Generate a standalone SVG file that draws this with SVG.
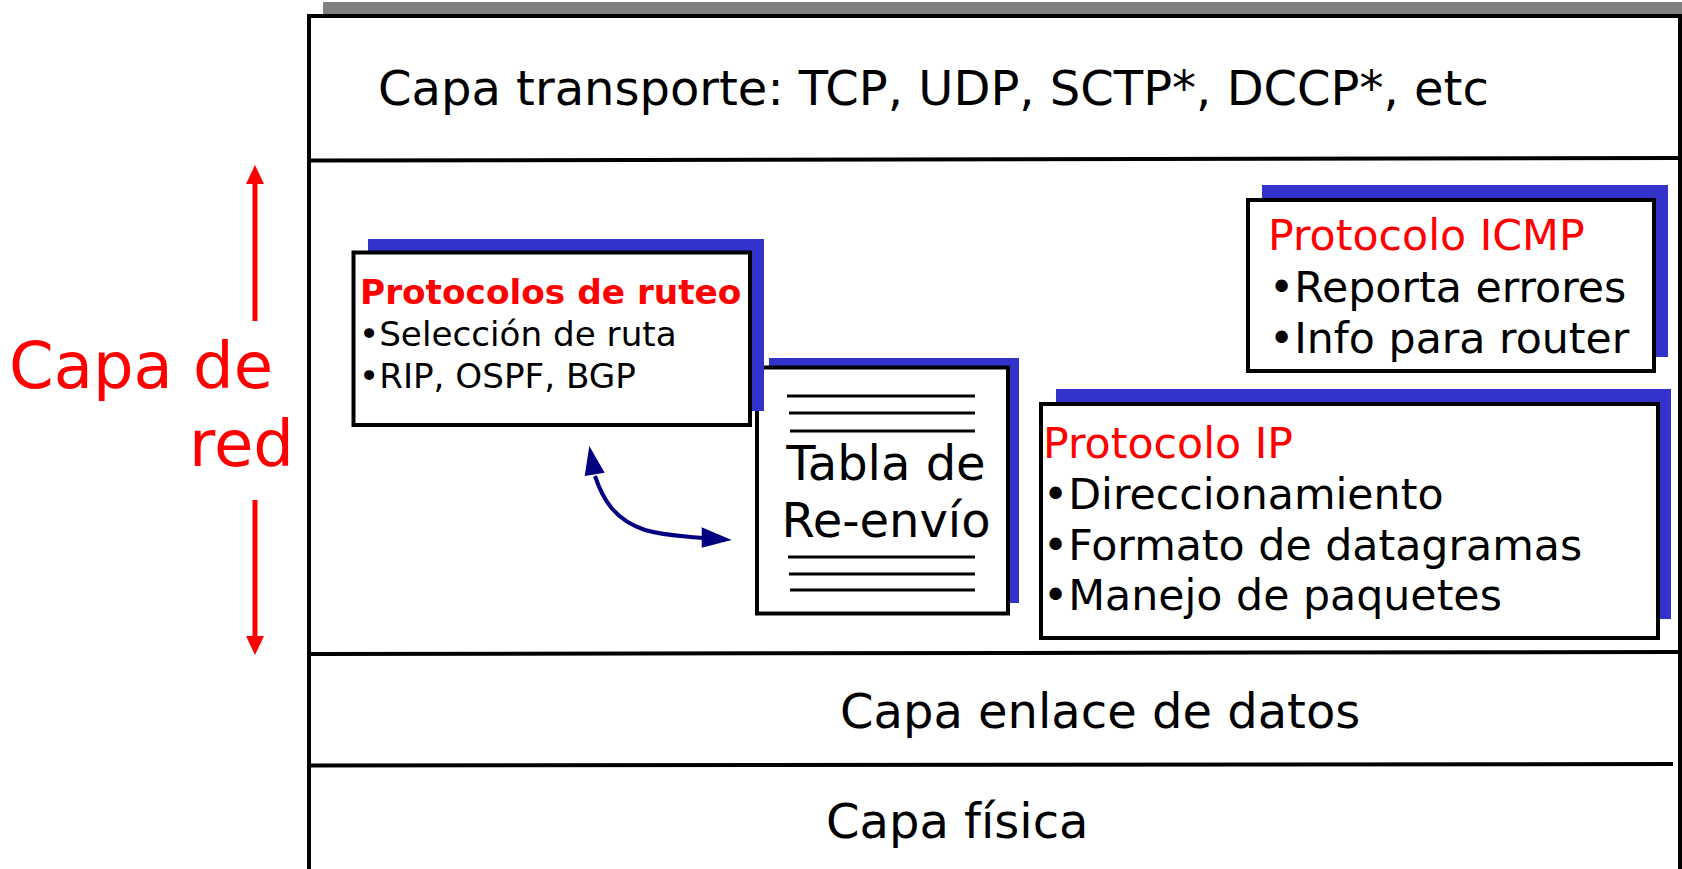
<svg xmlns="http://www.w3.org/2000/svg" width="1682" height="869" viewBox="0 0 1682 869">
<style>
  text { font-family: "DejaVu Sans", "Liberation Sans", sans-serif; }
  .layer { font-size: 48px; fill: #000; }
  .shadow { fill: #3333cc; }
  .box { fill: #fff; stroke: #000; stroke-width: 4; }
  .rule { stroke: #000; stroke-width: 4; fill: none; }
  .tline { stroke: #000; stroke-width: 3; }
  .t42 { font-size: 42.7px; fill: #000; }
  .t42r { font-size: 42.7px; fill: #ff0000; }
  .t34 { font-size: 34.2px; fill: #000; }
  .t34b { font-size: 34.3px; font-weight: bold; fill: #ff0000; }
  .red { stroke: #ff0000; stroke-width: 5; fill: none; }
</style>
<rect width="1682" height="869" fill="#fff"/>
<g id="stack">
  <rect x="323" y="2" width="1359" height="13" fill="#808080"/>
  <path class="rule" d="M309,869 V16 H1680 V869"/>
  <path class="rule" d="M311,160.5 L1680,158"/>
  <path class="rule" d="M311,654 L1680,652"/>
  <path class="rule" d="M311,765.5 L1673,764"/>
  <text class="layer" x="378" y="105">Capa transporte: TCP, UDP, SCTP*, DCCP*, etc</text>
  <text class="layer" x="840" y="728">Capa enlace de datos</text>
  <text class="layer" x="826" y="838">Capa física</text>
</g>
<g id="capa-de-red">
  <text x="9" y="388" font-size="64" fill="#ff0000">Capa de</text>
  <text x="189" y="466" font-size="64" fill="#ff0000">red</text>
  <line class="red" x1="255" y1="321" x2="255" y2="180"/>
  <polygon points="255,165 246,184 264,184" fill="#ff0000"/>
  <line class="red" x1="255" y1="500" x2="255" y2="640"/>
  <polygon points="255,655 246,636 264,636" fill="#ff0000"/>
</g>
<g id="tabla">
  <rect class="shadow" x="769" y="358" width="250" height="245"/>
  <rect class="box" x="757" y="367.5" width="251" height="246"/>
  <line class="tline" x1="787" y1="396" x2="975" y2="396"/>
  <line class="tline" x1="789" y1="413" x2="975" y2="413"/>
  <line class="tline" x1="790" y1="431" x2="975" y2="431"/>
  <line class="tline" x1="788" y1="557" x2="975" y2="557"/>
  <line class="tline" x1="789" y1="574" x2="975" y2="574"/>
  <line class="tline" x1="790" y1="590" x2="975" y2="590"/>
  <text class="layer" x="886" y="480" text-anchor="middle">Tabla de</text>
  <text class="layer" x="886" y="537" text-anchor="middle">Re-envío</text>
</g>
<g id="ruteo">
  <rect class="shadow" x="368" y="239" width="396" height="172"/>
  <rect class="box" x="353.5" y="252.5" width="396.5" height="172.5"/>
  <text class="t34b" x="360" y="304">Protocolos de ruteo</text>
  <text class="t34" x="359" y="346">•Selección de ruta</text>
  <text class="t34" x="359" y="388">•RIP, OSPF, BGP</text>
</g>
<g id="icmp">
  <rect class="shadow" x="1262" y="185" width="406" height="172"/>
  <rect class="box" x="1248" y="200" width="406" height="171"/>
  <text class="t42r" x="1268" y="250">Protocolo ICMP</text>
  <text class="t42" x="1269" y="302">•Reporta errores</text>
  <text class="t42" x="1269" y="353">•Info para router</text>
</g>
<g id="ip">
  <rect class="shadow" x="1056" y="389" width="615" height="230"/>
  <rect class="box" x="1041" y="404" width="617" height="234"/>
  <text class="t42r" x="1043" y="458">Protocolo IP</text>
  <text class="t42" x="1043" y="509">•Direccionamiento</text>
  <text class="t42" x="1043" y="560">•Formato de datagramas</text>
  <text class="t42" x="1043" y="610">•Manejo de paquetes</text>
</g>
<g id="connectors">
  <path d="M595,476 C603,500 615,520 645,530 C665,536 685,536 703,538" fill="none" stroke="#000080" stroke-width="4"/>
  <polygon points="589.3,446 584.7,476 604.7,472.7" fill="#000080"/>
  <polygon points="731.7,540 701.7,527.3 701.7,547.7" fill="#000080"/>
</g>
</svg>
